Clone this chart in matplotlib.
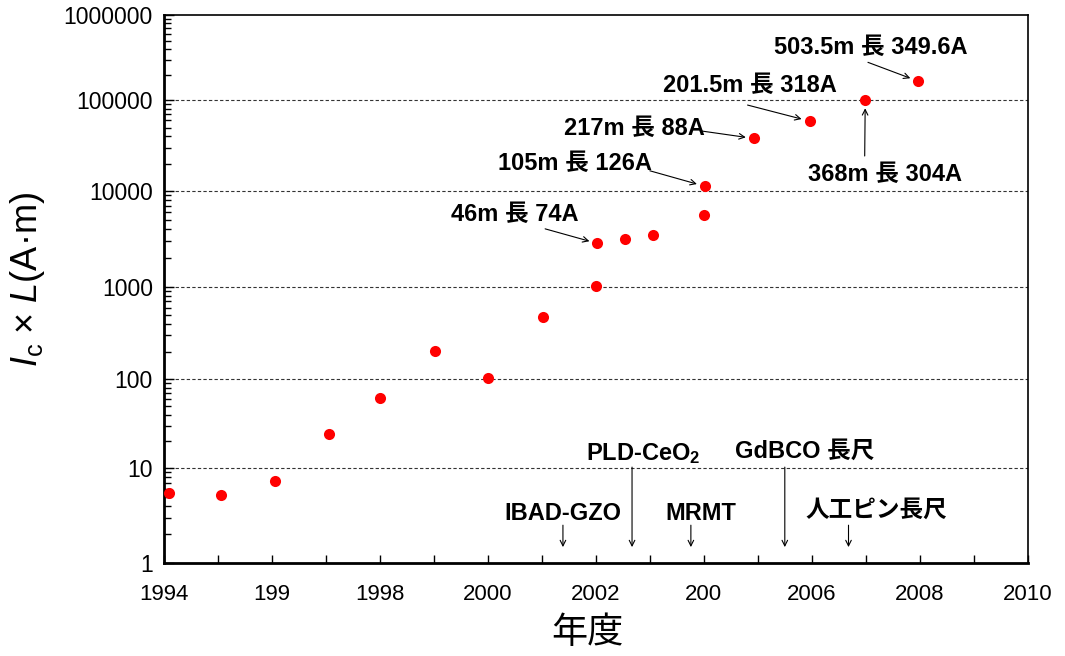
import matplotlib
matplotlib.use('Agg')
import matplotlib.pyplot as plt
import matplotlib.ticker as mticker
import numpy as np

plt.rcParams['font.family'] = ['Liberation Sans', 'Noto Sans CJK JP', 'DejaVu Sans']
plt.rcParams['mathtext.fontset'] = 'custom'
plt.rcParams['mathtext.rm'] = 'Liberation Sans'
plt.rcParams['mathtext.it'] = 'Liberation Sans:italic'
plt.rcParams['mathtext.bf'] = 'Liberation Sans:bold'

# data (year, Ic x L)
years = [1994.1, 1995.05, 1996.05, 1997.05, 1998.0, 1999.02, 2000.0, 2001.02,
         2002.0, 2002.03, 2002.54, 2003.05, 2004.01, 2004.02, 2004.93, 2005.96,
         2006.99, 2007.97]
icl = [5.5, 5.2, 7.2, 24, 62, 205, 103, 472,
       1020, 2850, 3150, 3450, 5600, 11300, 38000, 59000,
       101000, 168000]

xticks = [1994, 1996, 1998, 2000, 2002, 2004, 2006, 2008, 2010]
xticklabels = ['1994', '199', '1998', '2000', '2002', '200', '2006', '2008', '2010']
yticks = [1, 10, 100, 1000, 10000, 100000, 1000000]
yticklabels = ['1', '10', '100', '1000', '10000', '100000', '1000000']

# the original's decades are not evenly spaced; where each decade sits (0..1 of axis)
decade_pos = [0, 0.1736, 0.3352, 0.5036, 0.6789, 0.8446, 1.0]

# record labels: text, index of point, text pos (x year, y axes frac), arrow tail
records = [
    ('46m 長 74A', 9, (2000.5, 0.636), (2001.06, 0.610)),
    ('105m 長 126A', 13, (2001.61, 0.730), (2003.0, 0.716)),
    ('217m 長 88A', 14, (2002.72, 0.794), (2003.93, 0.789)),
    ('201.5m 長 318A', 15, (2004.85, 0.871), (2004.81, 0.836)),
    ('368m 長 304A', 16, (2007.35, 0.710), (2006.98, 0.743)),
    ('503.5m 長 349.6A', 17, (2007.1, 0.942), (2007.04, 0.914)),
]

# process milestones: text, arrow x, text pos (x year, y axes frac), arrow tail
milestones = [
    ('IBAD-GZO', 2001.39, (2001.39, 0.091), 0.069),
    (r'PLD-CeO$_\mathbf{2}$', 2002.67, (2002.87, 0.200), 0.175),
    ('MRMT', 2003.76, (2003.94, 0.091), 0.069),
    ('GdBCO 長尺', 2005.50, (2005.87, 0.204), 0.175),
    ('人工ピン長尺', 2006.68, (2007.19, 0.0965), 0.069),
]
arrow_head = 0.029


def fwd(v):
    return np.interp(np.log10(np.clip(v, 1e-3, None)), range(7), decade_pos)


def inv(u):
    return 10 ** np.interp(u, decade_pos, range(7))


fig = plt.figure(figsize=(10.65, 6.56), dpi=100)
ax = fig.add_axes([0.154, 0.1418, 0.811, 0.835])
xtr = ax.get_xaxis_transform()

ax.plot(years, icl, 'o', color='red', markersize=8, markeredgewidth=0, zorder=3)

ax.set_yscale('function', functions=(fwd, inv))
ax.set_ylim(1, 1000000)
ax.set_xlim(1994, 2010)

ax.set_xticks(xticks)
ax.set_xticklabels(xticklabels)
ax.xaxis.set_minor_locator(mticker.MultipleLocator(1))
ax.set_yticks(yticks)
ax.set_yticklabels(yticklabels)
minor_y = [m * 10 ** k for k in range(6) for m in range(2, 10)]
ax.set_yticks(minor_y, minor=True)
ax.yaxis.set_minor_formatter(mticker.NullFormatter())

ax.tick_params(axis='x', which='both', direction='in', length=6, width=1, top=False,
               labelsize=16, pad=15)
ax.tick_params(axis='y', which='major', direction='in', length=7, width=1, right=False,
               labelsize=16.5, pad=8)
ax.tick_params(axis='y', which='minor', direction='in', length=5, width=1, right=False)

for s in ax.spines.values():
    s.set_linewidth(1.2)
ax.spines['left'].set_linewidth(2)
ax.spines['bottom'].set_linewidth(2)

for yv in yticks[1:-1]:
    ax.axhline(yv, color='#333333', linestyle=(0, (3, 2)), linewidth=0.8, zorder=1)

for txt, i, tpos, tail in records:
    ax.annotate('', xy=(years[i], icl[i]), xytext=tail, textcoords=xtr,
                arrowprops=dict(arrowstyle='->', color='black', lw=0.8,
                                shrinkA=0, shrinkB=6))
    ax.text(tpos[0], tpos[1], txt, transform=xtr, fontsize=17, fontweight='bold',
            ha='center', va='center')

for txt, xa, tpos, ty in milestones:
    ax.annotate('', xy=(xa, arrow_head), xycoords=xtr, xytext=(xa, ty), textcoords=xtr,
                arrowprops=dict(arrowstyle='->', color='black', lw=0.8,
                                shrinkA=0, shrinkB=0))
    ax.text(tpos[0], tpos[1], txt, transform=xtr, fontsize=17, fontweight='bold',
            ha='center', va='center')

ax.set_xlabel('年度', fontsize=26)
ax.xaxis.label.set_va('center')
ax.xaxis.set_label_coords(0.49, -0.128)
ax.set_ylabel(r'$I_{\rm c}$ × $L$(A·m)', fontsize=26)
ax.yaxis.label.set_va('center')
ax.yaxis.set_label_coords(-0.158, 0.518)

fig.savefig('out.png', dpi=100)
